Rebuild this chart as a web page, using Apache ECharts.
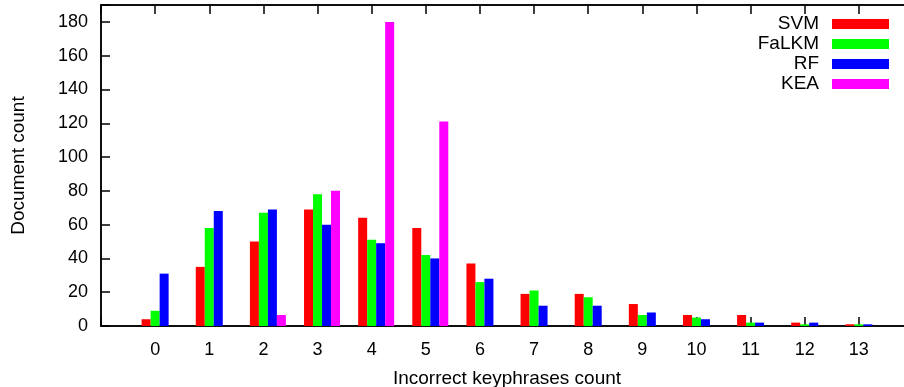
<!DOCTYPE html>
<html>
<head>
<meta charset="utf-8">
<script src="https://cdn.jsdelivr.net/npm/echarts@6/dist/echarts.min.js"></script>
<style>html,body{margin:0;padding:0;background:#fff}#c{width:904px;height:387px}</style>
</head>
<body>
<div id="c"></div>
<script>
const categories = [0,1,2,3,4,5,6,7,8,9,10,11,12,13];
const svm   = [4,35,50,69,64,58,37,19,19,13,6.5,6.5,2,1];
const falkm = [9,58,67,78,51,42,26,21,17,6.5,5,2,1,1];
const rf    = [31,68,69,60,49,40,28,12,12,8,4,2,2,1];
const kea   = [0,0,6.5,80,180,121,0,0,0,0,0,0,0,0];
const yTicks = [0,20,40,60,80,100,120,140,160,180];
const seriesNames = ['SVM','FaLKM','RF','KEA'];
const seriesColors = ['#ff0000','#00ff00','#0000ff','#ff00ff'];

const FONT = '"Liberation Sans", Arial, Helvetica, sans-serif';
const chart = echarts.init(document.getElementById('c'), null, {renderer:'canvas'});
const pair = arr => categories.map((c,i)=>[c, arr[i]]);
const lineStyle = {color:'#000', width:1.5};
const values = [svm, falkm, rf, kea];

const series = [{
  name: '_pad', type: 'bar', data: [], barWidth: 9, barGap: '0%', silent: true
}].concat(seriesNames.map((n,i)=>({
  name: n, type: 'bar', data: pair(values[i]), barWidth: 9, barGap: '0%',
  itemStyle: {color: seriesColors[i]}, silent: true
})));

chart.setOption({
  animation: false,
  backgroundColor: '#fff',
  grid: {left: 101, top: 5, width: 812, height: 321, show: true, borderColor: '#000', borderWidth: 1.5,
    backgroundColor: 'transparent', containLabel: false, outerBoundsMode: 'none'},
  legend: {
    data: seriesNames, orient: 'vertical', align: 'right', right: 15, top: 14, padding: 0,
    itemWidth: 57, itemHeight: 10, itemGap: 0, icon: 'rect', selectedMode: false,
    textStyle: {fontFamily: FONT, fontSize: 19, color: '#000', lineHeight: 20, padding: [0, 8, 0, 0]}
  },
  xAxis: [{
    type: 'value', min: -1, max: 14, interval: 1, position: 'bottom',
    name: 'Incorrect keyphrases count', nameLocation: 'middle', nameGap: 43,
    nameTextStyle: {fontFamily: FONT, fontSize: 19, color: '#000', lineHeight: 19},
    axisLine: {show: true, onZero: false, lineStyle},
    axisTick: {show: true, inside: true, length: 9, lineStyle},
    axisLabel: {margin: 15, fontFamily: FONT, fontSize: 18, color: '#000', lineHeight: 18,
      formatter: v => categories.indexOf(v) >= 0 ? String(v) : ''},
    splitLine: {show: false}
  }, {
    type: 'value', min: -1, max: 14, interval: 1, position: 'top',
    axisLine: {show: true, onZero: false, lineStyle},
    axisTick: {show: true, inside: true, length: 9, lineStyle},
    axisLabel: {show: false}, splitLine: {show: false}
  }],
  yAxis: [{
    type: 'value', min: 0, max: 190, interval: 20, position: 'left',
    name: 'Document count', nameLocation: 'middle', nameGap: 73,
    nameTextStyle: {fontFamily: FONT, fontSize: 19, color: '#000', lineHeight: 19},
    axisLine: {show: true, onZero: false, lineStyle},
    axisTick: {show: true, inside: true, length: 9, lineStyle},
    axisLabel: {margin: 13, fontFamily: FONT, fontSize: 18, color: '#000',
      formatter: v => yTicks.indexOf(v) >= 0 ? String(v) : ''},
    splitLine: {show: false}
  }, {
    type: 'value', min: 0, max: 190, interval: 20, position: 'right',
    axisLine: {show: true, onZero: false, lineStyle},
    axisTick: {show: true, inside: true, length: 9, lineStyle},
    axisLabel: {show: false}, splitLine: {show: false}
  }],
  series: series
});
</script>
</body>
</html>
